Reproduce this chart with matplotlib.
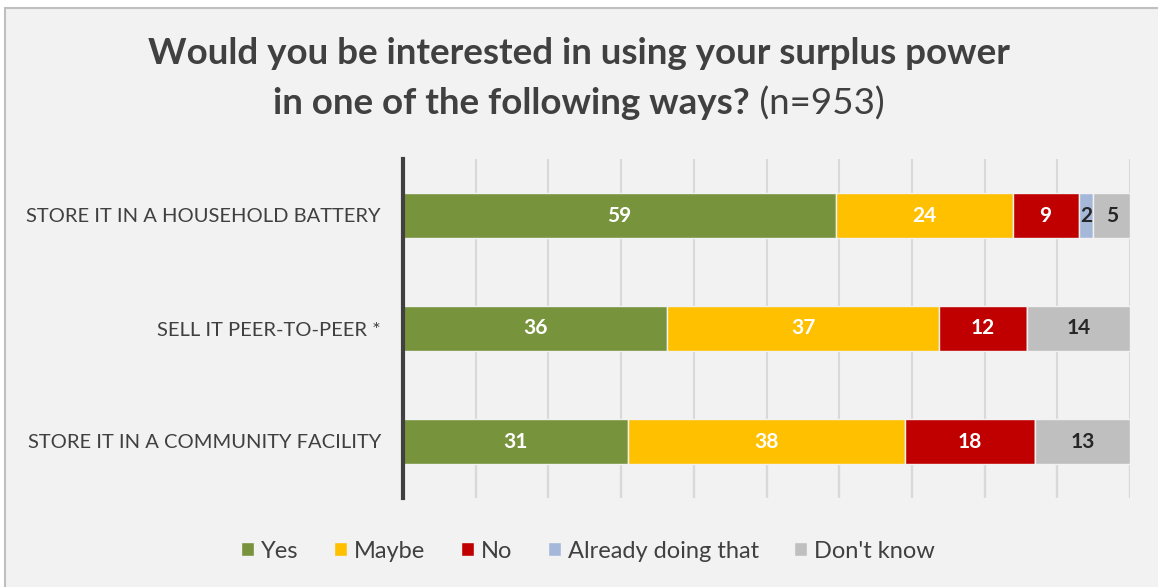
import numpy as np
import matplotlib
matplotlib.use("Agg")
import matplotlib.pyplot as plt
from matplotlib.patches import Rectangle

plt.rcParams['font.family'] = ['Lato', 'DejaVu Sans']

# survey answers, percent of respondents per option
options = ["STORE IT IN A HOUSEHOLD BATTERY",
           "SELL IT PEER-TO-PEER *",
           "STORE IT IN A COMMUNITY FACILITY"]
answers = ["Yes", "Maybe", "No", "Already doing that", "Don't know"]
yes = [59, 36, 31]
maybe = [24, 37, 38]
no = [9, 12, 18]
already = [2, 0, 0]
dont_know = [5, 14, 13]

colors = ["#77933C", "#FFC000", "#C00000", "#A5B8DA", "#BFBFBF"]
label_colors = ["white", "white", "white", "#262626", "#262626"]

series = np.array([yes, maybe, no, already, dont_know], dtype=float)
# 100% stacked: each row is scaled to its own total
shares = series / series.sum(axis=0) * 100

fig = plt.figure(figsize=(11.58, 5.87), dpi=100, facecolor="white")
W, H = 1158, 587
fig.patches.append(Rectangle((5 / W, -0.01), 1.02, (587 - 8) / H + 0.01,
                             transform=fig.transFigure, facecolor="#F2F2F2",
                             edgecolor="#BFBFBF", linewidth=1.5, zorder=-5))

ax = fig.add_axes([403 / W, 1 - 498 / H, (1130 - 403) / W, (498 - 159) / H])
ax.set_facecolor("none")

y = np.arange(len(options))
bar_h = 0.39
left = np.zeros(len(options))
for vals, sh, col, lc, name in zip(series, shares, colors, label_colors, answers):
    bars = ax.barh(y, sh, left=left, height=bar_h, color=col, edgecolor="#F2F2F2",
                   linewidth=1.0, label=name, zorder=3)
    for b, v in zip(bars, vals):
        if v > 0:
            ax.text(b.get_x() + b.get_width() / 2, b.get_y() + b.get_height() / 2,
                    f"{v:.0f}", ha="center", va="center", color=lc,
                    fontsize=15, fontweight="bold", zorder=4)
    left += sh

ax.set_xlim(0, 100)
ax.set_ylim(len(options) - 0.5, -0.5)
ticks = np.arange(10, 101, 10)
ax.set_xticks(ticks)
ax.tick_params(axis="x", length=0, labelbottom=False)
ax.grid(axis="x", color="#D9D9D9", linewidth=1.5, zorder=0)
# darker tick stubs beneath the last bar
ax.vlines(ticks, len(options) - 1 + bar_h / 2, len(options) - 0.5,
          color="#A6A6A6", linewidth=1.5, zorder=1)

ax.set_yticks(y)
ax.set_yticklabels(options, fontsize=14.5, color="#404040")
ax.tick_params(axis="y", length=0, pad=16)
for s in ["top", "right", "bottom"]:
    ax.spines[s].set_visible(False)
ax.spines["left"].set_color("#404040")
ax.spines["left"].set_linewidth(3)
ax.spines["left"].set_zorder(5)

# title: bold question, regular sample size
title_col = "#404040"
fig.text(0.5, 1 - 53 / H, "Would you be interested in using your surplus power",
         ha="center", va="center", fontsize=26.5, fontweight="bold", color=title_col)
t_bold = fig.text(0, 1 - 104 / H, "in one of the following ways?", ha="left", va="center",
                  fontsize=26.5, fontweight="bold", color=title_col)
t_reg = fig.text(0, 1 - 104 / H, " (n=953)", ha="left", va="center",
                 fontsize=26.5, color=title_col)
fig.canvas.draw()
r = fig.canvas.get_renderer()
wb = t_bold.get_window_extent(r).width
wr = t_reg.get_window_extent(r).width
x0 = (W - wb - wr) / 2
t_bold.set_x(x0 / W)
t_reg.set_x((x0 + wb) / W)

leg = fig.legend(loc="center", bbox_to_anchor=(588 / W, 1 - 551 / H), ncol=5,
                 frameon=False, fontsize=17, handlelength=0.55, handleheight=0.55,
                 handletextpad=0.3, columnspacing=1.5, labelcolor="#404040")

fig.savefig("out.png", dpi=100, facecolor=fig.get_facecolor())
